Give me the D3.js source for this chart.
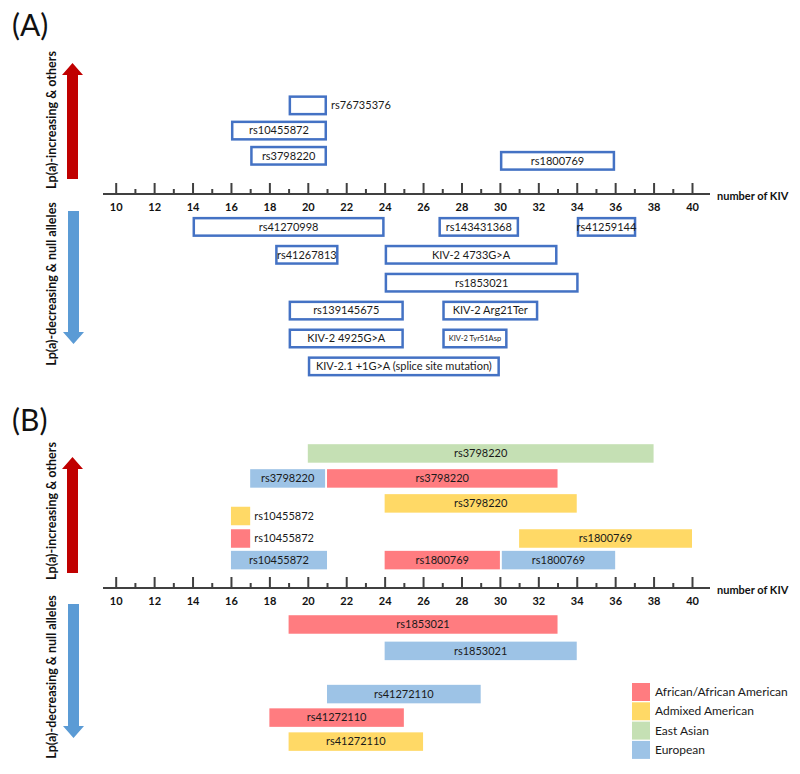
<!DOCTYPE html>
<html>
<head>
<meta charset="utf-8">
<script src="https://cdn.jsdelivr.net/npm/d3@7/dist/d3.min.js"></script>
<style>
  body { margin: 0; background: #fff; }
  svg text { font-family: Lato, "Open Sans", sans-serif; }
</style>
</head>
<body>
<div id="chart"></div>
<script>
// ---- data ----
const kivMinor = d3.range(11, 41, 2);
const kivMajor = d3.range(10, 41, 2);

// panel A, Lp(a)-increasing variants (above the axis)
const aUpNames  = ["rs76735376", "rs10455872", "rs3798220", "rs1800769"];
const aUpStart  = [19, 16, 17, 30];
const aUpEnd    = [21, 21, 21, 36];
const aUpLane   = [3, 2, 1, 0.8];
const aUpInside = [false, true, true, true];

// panel A, Lp(a)-decreasing variants (below the axis)
const aDownNames = ["rs41270998", "rs143431368", "rs41259144", "rs41267813", "KIV-2 4733G>A",
  "rs1853021", "rs139145675", "KIV-2 Arg21Ter", "KIV-2 4925G>A", "KIV-2 Tyr51Asp",
  "KIV-2.1 +1G>A (splice site mutation)"];
const aDownStart = [14, 26.8, 34, 18.3, 24, 24, 19, 27, 19, 27, 20];
const aDownEnd   = [24, 31, 37.1, 21.6, 33, 34.1, 25, 32, 25, 30.4, 30];
const aDownLane  = [1, 1, 1, 2, 2, 3, 4, 4, 5, 5, 6];
const aDownSmall = [false, false, false, false, false, false, false, false, false, true, false];

// panel B, by population
const populations = ["African/African American", "Admixed American", "East Asian", "European"];
const popColors   = ["#FF7C80", "#FFD966", "#C5E0B4", "#9DC3E6"];

const bUpNames  = ["rs3798220", "rs3798220", "rs3798220", "rs3798220", "rs10455872", "rs10455872",
  "rs10455872", "rs1800769", "rs1800769", "rs1800769"];
const bUpPop    = [2, 3, 0, 1, 1, 0, 3, 0, 3, 1];
const bUpStart  = [20, 17, 21, 24, 16, 16, 16, 24, 30.1, 31];
const bUpEnd    = [38, 20.9, 33, 34, 17, 17, 21, 30, 36, 40];
const bUpLane   = [5.98, 4.87, 4.87, 3.76, 3.2, 2.2, 1.24, 1.24, 1.24, 2.2];
const bUpInside = [true, true, true, true, false, false, true, true, true, true];

const bDownNames = ["rs1853021", "rs1853021", "rs41272110", "rs41272110", "rs41272110"];
const bDownPop   = [0, 3, 3, 0, 1];
const bDownStart = [19, 24, 21, 18, 19];
const bDownEnd   = [33, 34, 29, 25, 26];
const bDownLane  = [1.52, 2.62, 4.42, 5.4, 6.4];

// ---- layout ----
const W = 800, H = 774;
const axisA = 194, axisB = 588;
const blue = "#4472C4", red = "#C00000", arrowBlue = "#5B9BD5", axisCol = "#404040";

const x = d3.scaleLinear().domain([10, 40]).range([115.7, 692]);

const svg = d3.select("#chart").append("svg")
  .attr("width", W).attr("height", H);

function drawAxis(y0) {
  const g = svg.append("g").attr("transform", `translate(0,${y0})`);
  g.append("line").attr("x1", 103).attr("x2", 710)
    .attr("stroke", axisCol).attr("stroke-width", 2);
  const major = g.append("g").call(d3.axisBottom(x).tickValues(kivMajor).tickSize(-11).tickPadding(9).tickSizeOuter(0));
  const minor = g.append("g").call(d3.axisBottom(x).tickValues(kivMinor).tickSize(-5).tickFormat("").tickSizeOuter(0));
  [major, minor].forEach(a => {
    a.select(".domain").remove();
    a.selectAll(".tick line").attr("stroke", axisCol).attr("stroke-width", 2);
  });
  major.selectAll(".tick text")
    .attr("fill", "#111").style("font-family", "Lato, sans-serif")
    .style("font-size", "11px").style("font-weight", "bold");
  g.append("text").attr("x", 717).attr("y", 2).attr("dy", "0.35em")
    .style("font-size", "11px").style("font-weight", "bold").attr("fill", "#111")
    .text("number of KIV");
}

function drawArrow(cx, yTail, yTip, color) {
  const dir = yTip < yTail ? -1 : 1;
  const head = 12, hw = 10.5, sw = 5.5;
  const yb = yTip - dir * head;
  svg.append("path")
    .attr("d", `M${cx - sw},${yTail} L${cx - sw},${yb} L${cx - hw},${yb} L${cx},${yTip} L${cx + hw},${yb} L${cx + sw},${yb} L${cx + sw},${yTail} Z`)
    .attr("fill", color);
}

function sideLabel(cy, txt) {
  svg.append("text").attr("transform", `translate(52,${cy}) rotate(-90)`)
    .attr("text-anchor", "middle").attr("dy", "0.35em")
    .style("font-size", "12.5px").style("font-weight", "bold").attr("fill", "#111")
    .text(txt);
}

function panelTitle(y, txt) {
  svg.append("text").attr("x", 12).attr("y", y)
    .style("font-size", "30px").attr("fill", "#111").text(txt);
}

// ---- panel A ----
panelTitle(36, "(A)");
drawArrow(72.5, 179, 63, red);
drawArrow(73.5, 211, 344, arrowBlue);
sideLabel(120, "Lp(a)-increasing & others");
sideLabel(284, "Lp(a)-decreasing & null alleles");
drawAxis(axisA);

const aUp = aUpNames.map((n, i) => ({ name: n, s: aUpStart[i], e: aUpEnd[i], lane: aUpLane[i], inside: aUpInside[i] }));
const aDown = aDownNames.map((n, i) => ({ name: n, s: aDownStart[i], e: aDownEnd[i], lane: aDownLane[i], small: aDownSmall[i] }));
const yAUp = d3.scaleLinear().domain([0, 3]).range([axisA - 13, axisA - 13 - 3 * 25.2]);
const yADown = d3.scaleLinear().domain([0, 6]).range([axisA + 5, axisA + 5 + 6 * 27.9]);

function boxes(data, yScale) {
  const g = svg.append("g");
  const bh = 17.5;
  g.selectAll("rect").data(data).join("rect")
    .attr("x", d => x(d.s) + 1.25).attr("width", d => x(d.e) - x(d.s) - 2.5)
    .attr("y", d => yScale(d.lane) - bh / 2).attr("height", bh)
    .attr("fill", "#fff").attr("stroke", blue).attr("stroke-width", 2.5);
  g.selectAll("text").data(data).join("text")
    .attr("x", d => d.inside === false ? x(d.e) + 4 : (x(d.s) + x(d.e)) / 2)
    .attr("y", d => yScale(d.lane)).attr("dy", "0.35em")
    .attr("text-anchor", d => d.inside === false ? "start" : "middle")
    .style("font-size", d => d.small ? "7.5px" : "11px").attr("fill", "#1a1a1a")
    .text(d => d.name);
}
boxes(aUp, yAUp);
boxes(aDown, yADown);

// ---- panel B ----
panelTitle(431, "(B)");
drawArrow(72.5, 573, 457, red);
drawArrow(73.5, 604, 738, arrowBlue);
sideLabel(511, "Lp(a)-increasing & others");
sideLabel(677, "Lp(a)-decreasing & null alleles");
drawAxis(axisB);

const bUp = bUpNames.map((n, i) => ({ name: n, pop: bUpPop[i], s: bUpStart[i], e: bUpEnd[i], lane: bUpLane[i], inside: bUpInside[i] }));
const bDown = bDownNames.map((n, i) => ({ name: n, pop: bDownPop[i], s: bDownStart[i], e: bDownEnd[i], lane: bDownLane[i], inside: true }));
const yBUp = d3.scaleLinear().domain([0, 6]).range([axisB, axisB - 6 * 22.5]);
const yBDown = d3.scaleLinear().domain([0, 7]).range([axisB, axisB + 7 * 24]);

function bars(data, yScale) {
  const g = svg.append("g");
  const bh = 18.5;
  g.selectAll("rect").data(data).join("rect")
    .attr("x", d => x(d.s)).attr("width", d => x(d.e) - x(d.s))
    .attr("y", d => yScale(d.lane) - bh / 2).attr("height", bh)
    .attr("fill", d => popColors[d.pop]);
  g.selectAll("text").data(data).join("text")
    .attr("x", d => d.inside ? (x(d.s) + x(d.e)) / 2 : x(d.e) + 4)
    .attr("y", d => yScale(d.lane)).attr("dy", "0.35em")
    .attr("text-anchor", d => d.inside ? "middle" : "start")
    .style("font-size", "11px").attr("fill", "#1a1a1a")
    .text(d => d.name);
}
bars(bUp, yBUp);
bars(bDown, yBDown);

// legend
const leg = svg.append("g").attr("transform", "translate(632,683)");
const li = leg.selectAll("g").data(populations).join("g")
  .attr("transform", (d, i) => `translate(0,${i * 19.3})`);
li.append("rect").attr("width", 18).attr("height", 18).attr("fill", (d, i) => popColors[i]);
li.append("text").attr("x", 23).attr("y", 9).attr("dy", "0.35em")
  .style("font-size", "12px").attr("fill", "#1a1a1a").text(d => d);
</script>
</body>
</html>
